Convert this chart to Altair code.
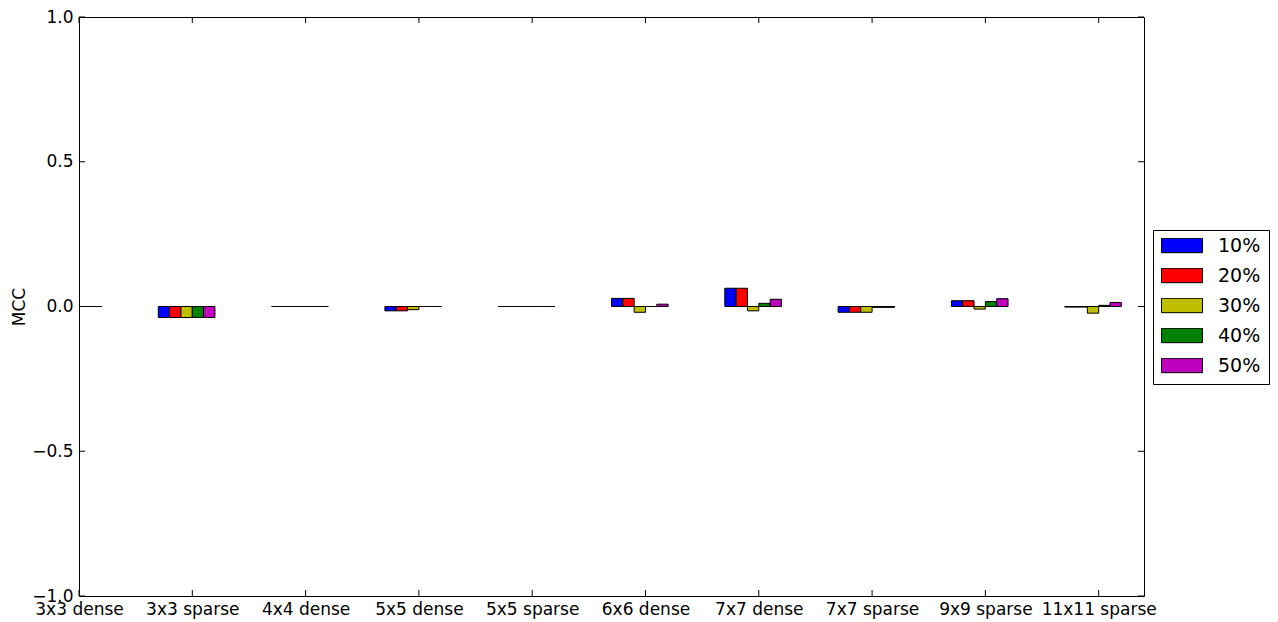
import json
import altair as alt
import pandas as pd

# Grid configurations on the x axis
categories = ["3x3 dense", "3x3 sparse", "4x4 dense", "5x5 dense", "5x5 sparse",
              "6x6 dense", "7x7 dense", "7x7 sparse", "9x9 sparse", "11x11 sparse"]

# Series (noise levels) and their colours
series = ["10%", "20%", "30%", "40%", "50%"]
colors = ["#0000ff", "#ff0000", "#bfbf00", "#008000", "#bf00bf"]

# MCC per configuration for each series
mcc_10 = [0.0, -0.038, 0.0, -0.015, 0.0, 0.028, 0.063, -0.020, 0.020, -0.002]
mcc_20 = [0.0, -0.038, 0.0, -0.015, 0.0, 0.028, 0.063, -0.020, 0.020, -0.002]
mcc_30 = [0.0, -0.038, 0.0, -0.011, 0.0, -0.020, -0.015, -0.020, -0.009, -0.023]
mcc_40 = [0.0, -0.038, 0.0, 0.0, 0.0, 0.0, 0.011, -0.003, 0.017, 0.004]
mcc_50 = [0.0, -0.038, 0.0, 0.0, 0.0, 0.008, 0.025, -0.003, 0.027, 0.014]

y_ticks = [-1.0, -0.5, 0.0, 0.5, 1.0]

bar_width = 0.1
group_offset = -0.3

rows = []
for si, (name, vals) in enumerate(zip(series, [mcc_10, mcc_20, mcc_30, mcc_40, mcc_50])):
    for gi, v in enumerate(vals):
        x0 = gi + group_offset + si * bar_width
        rows.append({"series": name, "x0": x0, "x1": x0 + bar_width, "mcc": v, "base": 0.0})
df = pd.DataFrame(rows)

W, H = 1065, 579
FONT = "DejaVu Sans"
x_scale = alt.Scale(domain=[0, 9.4], nice=False, zero=False)
y_scale = alt.Scale(domain=[-1, 1], nice=False)

label_expr = json.dumps(categories) + "[round(datum.value)]"

bars = alt.Chart(df).mark_rect(stroke="black", strokeWidth=1, clip=True).encode(
    x=alt.X("x0:Q", scale=x_scale,
            axis=alt.Axis(values=list(range(len(categories))), labelExpr=label_expr,
                          title=None, ticks=False, domain=False, grid=False,
                          labelPadding=5, labelOverlap=False, labelFlush=False,
                          labelFontSize=17, labelFont=FONT, labelColor="black")),
    x2="x1:Q",
    y=alt.Y("mcc:Q", scale=y_scale,
            axis=alt.Axis(values=y_ticks, format=".1f", title="MCC", ticks=False,
                          domain=False, grid=False, labelPadding=6, labelFontSize=17,
                          labelFont=FONT, labelColor="black", titleFontSize=17,
                          titleFont=FONT, titleFontWeight="normal", titleColor="black",
                          titlePadding=3, labelOverlap=False, labelFlush=False)),
    y2="base:Q",
    color=alt.Color("series:N", scale=alt.Scale(domain=series, range=colors),
                    legend=alt.Legend(title=None, orient="none", legendX=1074, legendY=213,
                                      symbolType="M-1,-0.35L1,-0.35L1,0.35L-1,0.35Z",
                                      symbolSize=1681, symbolStrokeColor="black",
                                      symbolStrokeWidth=1, symbolOpacity=1,
                                      labelFontSize=19, labelFont=FONT, labelColor="black",
                                      strokeColor="black", fillColor="white", padding=8,
                                      rowPadding=10, clipHeight=15, labelOffset=15)),
)

xt = pd.DataFrame({"t": list(range(len(categories)))})
yt = pd.DataFrame({"t": y_ticks})
tick_len = 6
bottom_ticks = alt.Chart(xt).mark_rule(color="black", strokeWidth=1).encode(
    x=alt.X("t:Q", scale=x_scale), y=alt.value(H), y2=alt.value(H - tick_len))
top_ticks = alt.Chart(xt).mark_rule(color="black", strokeWidth=1).encode(
    x=alt.X("t:Q", scale=x_scale), y=alt.value(0), y2=alt.value(tick_len))
left_ticks = alt.Chart(yt).mark_rule(color="black", strokeWidth=1).encode(
    y=alt.Y("t:Q", scale=y_scale), x=alt.value(0), x2=alt.value(tick_len))
right_ticks = alt.Chart(yt).mark_rule(color="black", strokeWidth=1).encode(
    y=alt.Y("t:Q", scale=y_scale), x=alt.value(W - tick_len), x2=alt.value(W))

chart = alt.layer(bars, bottom_ticks, top_ticks, left_ticks, right_ticks).properties(
    width=W, height=H,
    background="white",
    autosize=alt.AutoSizeParams(type="none"),
    padding={"left": 79, "top": 17, "right": 134, "bottom": 26},
).configure_view(stroke="black", strokeWidth=1)

chart.save("out.html", embed_options={"renderer": "svg", "actions": False})
